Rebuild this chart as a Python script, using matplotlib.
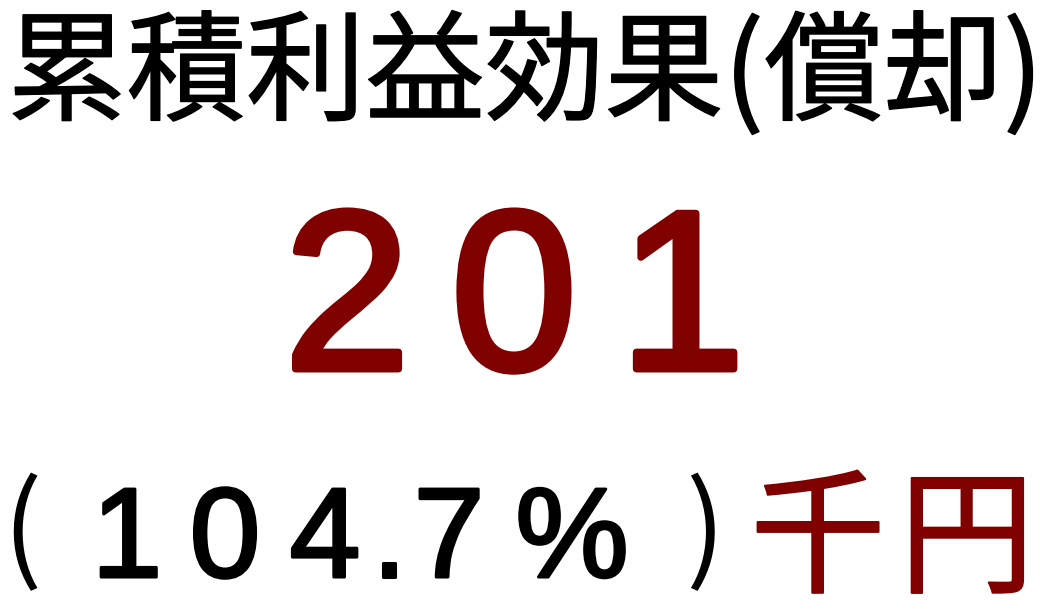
import matplotlib
matplotlib.use("Agg")
import matplotlib.pyplot as plt
import matplotlib.patheffects as pe

# values shown on the card
title = "累積利益効果(償却)"
amount = "201"
ratio = "104.7"
unit = "千円"

RED = "#800000"
W, H = 1051, 616
CJK = ["Noto Sans CJK JP", "DejaVu Sans"]

fig = plt.figure(figsize=(W / 100, H / 100), dpi=100)
fig.patch.set_facecolor("white")


def put(s, xc, ybase, size, color="black", family="Liberation Sans", lw=0, **kw):
    # one glyph centred at pixel column xc, baseline at pixel row ybase
    t = fig.text(xc / W, 1 - ybase / H, s, ha="center", va="baseline",
                 fontsize=size, color=color, family=family, **kw)
    if lw:
        t.set_path_effects([pe.withStroke(linewidth=lw, foreground=color)])
    return t


# line 1: title
t = fig.text(0.5, 1 - 77 / H, title, ha="center", va="center", fontsize=86,
             family=CJK)
t.set_path_effects([pe.withStroke(linewidth=1.0, foreground="black")])

# line 2: amount, spread out
for ch, xc in zip(amount, [347, 514, 682]):
    put(ch, xc, 369, 163, color=RED, lw=5)

# line 3: ratio in brackets, then unit
put("(", 22, 568, 84, family=CJK)
for ch, xc in zip(ratio, [127, 225, 325, 389, 449]):
    put(ch, xc, 577, 92, lw=2.2)
put("%", 572, 577, 92, lw=2.2)
put(")", 705, 568, 84, family=CJK)
for ch, xc in zip(unit, [818, 967]):
    put(ch, xc, 582, 97, color=RED, family=CJK, lw=1.5)

fig.savefig("out.png", dpi=100, facecolor="white")
